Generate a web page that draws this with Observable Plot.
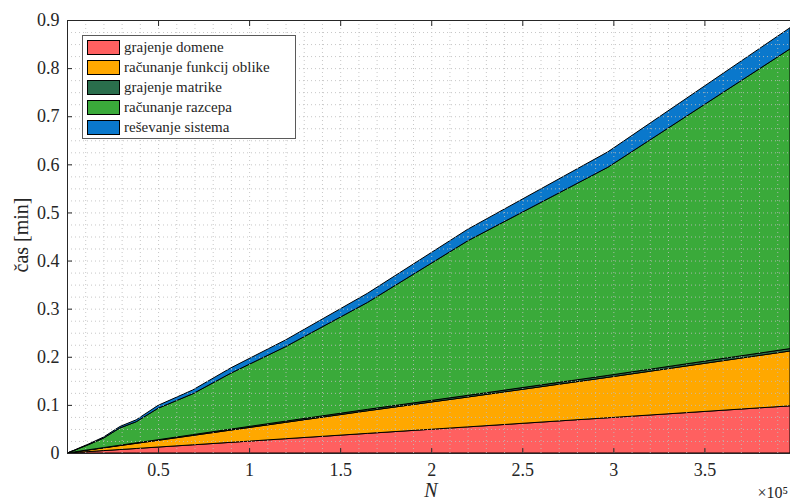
<!DOCTYPE html>
<html><head><meta charset="utf-8">
<script src="https://cdn.jsdelivr.net/npm/d3@7"></script>
<script src="https://cdn.jsdelivr.net/npm/@observablehq/plot@0.6"></script>
<style>
body{margin:0;background:#fff;}
#wrap{position:relative;width:790px;height:501px;overflow:hidden;}
#legend{position:absolute;left:82px;top:35px;width:214px;height:104px;background:#fff;border:1px solid #5a5a5a;box-sizing:border-box;font-family:"Liberation Serif","Times New Roman","DejaVu Serif","Nimbus Roman",serif;font-size:15px;color:#262626;}
.row{position:absolute;left:4px;height:16px;display:flex;align-items:center;white-space:nowrap;}
.sw{width:33px;height:15px;border:1px solid #000;box-sizing:border-box;margin-right:4px;}
svg text{font-family:"Liberation Serif","Times New Roman","DejaVu Serif","Nimbus Roman",serif;}
</style></head>
<body><div id="wrap"><div id="chart"></div><div id="legend"></div></div>
<script>
const N = [0.005, 0.02, 0.04, 0.07, 0.12, 0.16, 0.2, 0.29, 0.38, 0.5, 0.69, 0.9, 1.2, 1.65, 2.2, 2.97, 3.97];
const grajenjeDomene   = [0.0001, 0.0005, 0.001, 0.0017, 0.003, 0.004, 0.005, 0.0072, 0.0094, 0.0124, 0.017, 0.0222, 0.0297, 0.0408, 0.0543, 0.0733, 0.098];
const funkcijOblike    = [0.0001, 0.0006, 0.0011, 0.002, 0.0034, 0.0045, 0.0056, 0.0082, 0.0107, 0.014, 0.0195, 0.0255, 0.034, 0.047, 0.062, 0.084, 0.114];
const grajenjeMatrike  = [0.00005, 0.0001, 0.0002, 0.0003, 0.0004, 0.0005, 0.0006, 0.0008, 0.001, 0.0012, 0.0016, 0.002, 0.0025, 0.003, 0.0035, 0.004, 0.005];
const racunanjeRazcepa = [0.00015, 0.0015, 0.0032, 0.0062, 0.0109, 0.0153, 0.0198, 0.0358, 0.0439, 0.0654, 0.0849, 0.1163, 0.1548, 0.2222, 0.3212, 0.4327, 0.623];
const resevanjeSistema = [0.0001, 0.0003, 0.0005, 0.0008, 0.0013, 0.0017, 0.002, 0.003, 0.004, 0.006, 0.008, 0.011, 0.014, 0.019, 0.024, 0.032, 0.044];
const seriesNames = ["grajenje domene", "računanje funkcij oblike", "grajenje matrike", "računanje razcepa", "reševanje sistema"];
const seriesColors = ["#ff6060", "#ffa800", "#2a6e4c", "#3aaa3a", "#0a78cc"];
const xTicks = [0.5, 1, 1.5, 2, 2.5, 3, 3.5];
const yTicks = [0, 0.1, 0.2, 0.3, 0.4, 0.5, 0.6, 0.7, 0.8, 0.9];

const seriesValues = [grajenjeDomene, funkcijOblike, grajenjeMatrike, racunanjeRazcepa, resevanjeSistema];
const data = [];
seriesNames.forEach((s, i) => N.forEach((n, j) => data.push({N: n, t: seriesValues[i][j], series: s})));

const xMinor = d3.range(0.1, 3.97, 0.1);
const yMinor = d3.range(0.025, 0.9, 0.025);
const font = "'Liberation Serif', 'Times New Roman', 'DejaVu Serif', serif";
const fmt = d3.format("~g");

const chart = Plot.plot({
  width: 790, height: 501,
  marginLeft: 67, marginRight: 0, marginTop: 20, marginBottom: 48,
  style: {fontFamily: font, fontSize: "17px", color: "#262626", background: "#fff"},
  x: {domain: [0, 3.97], label: null},
  y: {domain: [0, 0.9], label: null},
  color: {domain: seriesNames, range: seriesColors},
  marks: [
    Plot.areaY(data, {x: "N", y: "t", fill: "series", z: "series", order: seriesNames, stroke: "#000", strokeWidth: 1}),
    Plot.gridX(xMinor, {stroke: "#bdbdbd", strokeOpacity: 0.85, strokeDasharray: "1,3"}),
    Plot.gridY(yMinor, {stroke: "#bdbdbd", strokeOpacity: 0.85, strokeDasharray: "1,3"}),
    Plot.ruleY([0, 0.9], {stroke: "#262626", strokeWidth: 1}),
    Plot.ruleX([0], {stroke: "#262626", strokeWidth: 1}),
    Plot.axisX(xTicks, {anchor: "bottom", tickSize: -5, tickPadding: 15, tickFormat: fmt, label: null, stroke: "#262626", fill: "#262626", fontSize: 18}),
    Plot.axisX(xTicks, {anchor: "top", tickSize: -5, tickFormat: () => "", label: null, stroke: "#262626"}),
    Plot.axisY(yTicks, {anchor: "left", tickSize: -5, tickPadding: 13, tickFormat: fmt, label: null, stroke: "#262626", fill: "#262626", fontSize: 18})
  ]
});
document.getElementById("chart").appendChild(chart);

const svg = d3.select(chart);
svg.append("text").attr("x", 431).attr("y", 497).attr("text-anchor", "middle")
  .attr("font-family", font).attr("font-style", "italic").attr("font-size", 20).attr("fill", "#262626").text("N");
svg.append("text").attr("x", 788).attr("y", 498).attr("text-anchor", "end")
  .attr("font-family", font).attr("font-size", 16).attr("fill", "#262626").text("×10⁵");
svg.append("text").attr("transform", "translate(28,235) rotate(-90)").attr("text-anchor", "middle")
  .attr("font-family", font).attr("font-size", 20).attr("fill", "#262626").text("čas [min]");

const lg = document.getElementById("legend");
seriesNames.forEach((s, i) => {
  const r = document.createElement("div");
  r.className = "row"; r.style.top = (3 + i * 20) + "px";
  r.innerHTML = `<div class="sw" style="background:${seriesColors[i]}"></div><span>${s}</span>`;
  lg.appendChild(r);
});
</script></body></html>
